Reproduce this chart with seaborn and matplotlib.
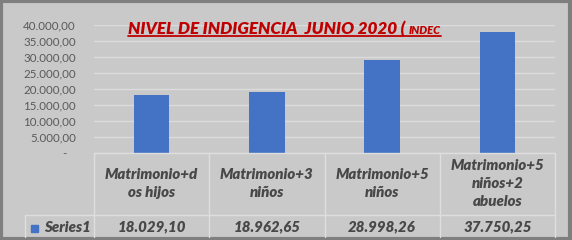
import matplotlib
matplotlib.use("Agg")
import matplotlib.pyplot as plt
import seaborn as sns
import pandas as pd
from matplotlib.lines import Line2D
from matplotlib.patches import Rectangle
import matplotlib.transforms as mtransforms

categories = ["Matrimonio+dos hijos", "Matrimonio+3 niños", "Matrimonio+5 niños", "Matrimonio+5 niños+2 abuelos"]
header_labels = ["Matrimonio+d\nos hijos", "Matrimonio+3\nniños", "Matrimonio+5\nniños", "Matrimonio+5\nniños+2\nabuelos"]
values = [18029.10, 18962.65, 28998.26, 37750.25]
value_labels = ["18.029,10", "18.962,65", "28.998,26", "37.750,25"]
yticks = [0, 5000, 10000, 15000, 20000, 25000, 30000, 35000, 40000]
ytick_labels = ["-   ", "5.000,00", "10.000,00", "15.000,00", "20.000,00", "25.000,00", "30.000,00", "35.000,00", "40.000,00"]
series_name = "Series1"

sns.set_style("white")
plt.rcParams['font.family'] = ['Lato', 'DejaVu Sans']

W, H = 572, 240
BG = "#c9c9c9"
GRID = "#dcdcdc"
TXT = "#484848"
fig = plt.figure(figsize=(W / 100, H / 100), dpi=100, facecolor=BG)

def fx(px):
    return px / W

def fy(py):
    return 1 - py / H

ax_l, ax_r, ax_t, ax_b = 94, 555, 25, 152.5
ax = fig.add_axes([fx(ax_l), fy(ax_b), fx(ax_r - ax_l), (ax_b - ax_t) / H])
ax.set_facecolor(BG)

df = pd.DataFrame({"cat": categories, "val": values})
sns.barplot(data=df, x="cat", y="val", color="#4472c4", width=0.31, ax=ax, saturation=1, linewidth=0)
ax.set_xlim(-0.5, len(categories) - 0.5)
ax.set_ylim(0, 40000)
ax.set_yticks(yticks)
ax.set_yticklabels(ytick_labels, fontsize=8.3, color="#595959")
ax.tick_params(axis="y", length=0, pad=13)
ax.set_xticks([])
ax.set_xlabel("")
ax.set_ylabel("")
for s in ax.spines.values():
    s.set_visible(False)
ax.yaxis.grid(True, color=GRID, linewidth=1)
ax.set_axisbelow(True)

# table
LC = "#dedede"
bx = [ax_l + i * (ax_r - ax_l) / len(categories) for i in range(len(categories) + 1)]
row1_top, row_mid, row_bot = 152.5, 215, 236.5
def hline(x0, x1, y):
    fig.add_artist(Line2D([fx(x0), fx(x1)], [fy(y), fy(y)], color=LC, lw=1))
def vline(x, y0, y1):
    fig.add_artist(Line2D([fx(x), fx(x)], [fy(y0), fy(y1)], color=LC, lw=1))
hline(ax_l, ax_r, row1_top)
hline(25, ax_r, row_mid)
for x in bx:
    vline(x, row1_top, row_bot)
vline(25, row_mid, row_bot)

trans = mtransforms.blended_transform_factory(ax.transData, fig.transFigure)
for i, lab in enumerate(header_labels):
    fig.text(i, fy((row1_top + row_mid) / 2), lab, transform=trans, ha="center", va="center",
             fontsize=10.8, fontweight="heavy", fontstyle="italic", color=TXT, linespacing=1.45)
for i, lab in enumerate(value_labels):
    fig.text(i, fy(227), lab, transform=trans, ha="center", va="center",
             fontsize=10.8, fontweight="heavy", fontstyle="italic", color=TXT)
fig.add_artist(Rectangle((fx(31), fy(232)), fx(7), 7 / H, color="#4472c4", transform=fig.transFigure))
fig.text(fx(44), fy(227), series_name, ha="left", va="center", fontsize=10.8,
         fontweight="heavy", fontstyle="italic", color=TXT)

# title
t1 = fig.text(fx(128), fy(34), "NIVEL DE INDIGENCIA  JUNIO 2020 ( ", ha="left", va="baseline",
              fontsize=12.3, fontweight="heavy", fontstyle="italic", color="#c00000")
fig.canvas.draw()
r = fig.canvas.get_renderer()
bb = t1.get_window_extent(r)
t2 = fig.text(bb.x1 / W, fy(34), "INDEC", ha="left", va="baseline",
              fontsize=8, fontweight="heavy", fontstyle="italic", color="#c00000")
bb2 = t2.get_window_extent(r)
fig.add_artist(Line2D([bb.x0 / W, bb2.x1 / W], [fy(36), fy(36)], color="#c00000", lw=1.3))

# frame
fig.add_artist(Rectangle((0.002, 0.004), 0.995, 0.99, fill=False, edgecolor="#7f7f7f", lw=3,
                         transform=fig.transFigure))

fig.savefig("out.png", dpi=100, facecolor=BG)
